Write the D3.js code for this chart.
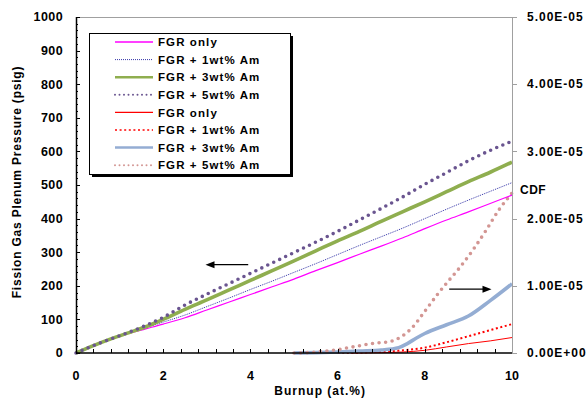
<!DOCTYPE html>
<html lang="en">
<head>
<meta charset="UTF-8">
<title>Fission gas plenum pressure and CDF</title>
<script src="https://d3js.org/d3.v7.min.js"></script>
<style>
  body { margin: 0; background: #fff; }
  text { font-family: "Liberation Sans", Arial, sans-serif; font-weight: bold; fill: #000; }
</style>
</head>
<body>
<div id="chart"></div>
<script>
  // burnup grid for pressure curves (at.%)
  var burnupP = [0, 0.4, 0.8, 1.2, 1.6, 2, 2.5, 3, 3.5, 4, 4.5, 5, 5.5, 6, 6.5, 7, 7.5, 8, 8.5, 9, 9.5, 10];
  // plenum pressure (psig)
  var pFgr  = [0, 22, 41, 58, 72, 86, 105, 128, 151, 174, 197, 220, 245, 269, 294, 318, 343, 370, 396, 420, 445, 470];
  var pAm1  = [0, 22, 42, 60, 76, 92, 113, 138, 163, 189, 214, 240, 266, 293, 320, 346, 372, 400, 428, 455, 481, 507];
  var pAm3  = [0, 22, 42, 60, 78, 100, 130, 158, 187, 216, 245, 274, 304, 334, 362, 392, 421, 450, 480, 510, 538, 568];
  var pAm5  = [0, 22, 42, 61, 82, 106, 143, 175, 206, 237, 268, 299, 330, 362, 396, 430, 465, 502, 537, 572, 603, 630];

  // CDF curves (units of 1e-5)
  var bCdfFgr = [6.3, 7, 7.5, 8, 8.5, 9, 9.5, 10];
  var cCdfFgr = [0, 0.005, 0.015, 0.04, 0.09, 0.14, 0.18, 0.23];
  var bCdfAm1 = [6, 6.5, 7, 7.5, 8, 8.5, 9, 9.5, 10];
  var cCdfAm1 = [0, 0.005, 0.02, 0.04, 0.08, 0.16, 0.25, 0.34, 0.43];
  var bCdfAm3 = [5, 5.5, 6, 6.5, 7, 7.4, 7.6, 7.8, 8, 8.5, 9, 9.5, 10];
  var cCdfAm3 = [0, 0.005, 0.015, 0.03, 0.045, 0.08, 0.14, 0.22, 0.29, 0.42, 0.55, 0.78, 1.03];
  var bCdfAm5 = [5, 5.3, 5.6, 6, 6.3, 6.6, 6.9, 7.2, 7.5, 7.7, 8, 8.3, 8.5, 8.8, 9.1, 9.4, 9.7, 10];
  var cCdfAm5 = [0, 0.005, 0.02, 0.05, 0.085, 0.12, 0.15, 0.17, 0.26, 0.37, 0.62, 0.88, 1.04, 1.27, 1.53, 1.82, 2.13, 2.38];

  var xTicks = [0, 2, 4, 6, 8, 10];
  var yTicks = [0, 100, 200, 300, 400, 500, 600, 700, 800, 900, 1000];
  var y2Ticks = [0, 1, 2, 3, 4, 5];
  var y2Labels = ["0.00E+00", "1.00E-05", "2.00E-05", "3.00E-05", "4.00E-05", "5.00E-05"];

  var legendNames = ["FGR only", "FGR + 1wt% Am", "FGR + 3wt% Am", "FGR + 5wt% Am",
                     "FGR only", "FGR + 1wt% Am", "FGR + 3wt% Am", "FGR + 5wt% Am"];

  var W = 588, H = 401;
  var margin = { top: 17, right: 76, bottom: 48, left: 76 };
  var width = W - margin.left - margin.right,
      height = H - margin.top - margin.bottom;

  var svg = d3.select("#chart").append("svg")
      .attr("width", W).attr("height", H);
  var g = svg.append("g")
      .attr("transform", "translate(" + margin.left + "," + margin.top + ")");

  var x = d3.scaleLinear().domain([0, 10]).range([0, width]);
  var y = d3.scaleLinear().domain([0, 1000]).range([height, 0]);
  var y2 = d3.scaleLinear().domain([0, 5]).range([height, 0]);

  // series styles
  var styles = [
    { stroke: "#ff00ff", w: 1.2, dash: null, cap: "butt", lw: 1.5, ldash: null },
    { stroke: "#3434a8", w: 1, dash: "1,1", cap: "butt", lw: 1, ldash: "1,1" },
    { stroke: "#8fae4f", w: 3.6, dash: null, cap: "butt", lw: 2.5, ldash: null },
    { stroke: "#6a5590", w: 3.6, dash: "0,6.6", cap: "round", lw: 2, ldash: "0,4.5" },
    { stroke: "#ff0000", w: 1, dash: null, cap: "butt", lw: 1.2, ldash: null },
    { stroke: "#ff0000", w: 2, dash: "2,2.6", cap: "butt", lw: 1.5, ldash: "2,2.6" },
    { stroke: "#94add3", w: 3.6, dash: null, cap: "butt", lw: 2.5, ldash: null },
    { stroke: "#d39693", w: 3.6, dash: "0,6.6", cap: "round", lw: 2, ldash: "0,4.5" }
  ];

  function zip(bs, vs) { return bs.map(function (b, i) { return [b, vs[i]]; }); }

  var series = [
    { pts: zip(burnupP, pFgr), axis: y },
    { pts: zip(burnupP, pAm1), axis: y },
    { pts: zip(burnupP, pAm3), axis: y },
    { pts: zip(burnupP, pAm5), axis: y },
    { pts: zip(bCdfFgr, cCdfFgr), axis: y2 },
    { pts: zip(bCdfAm1, cCdfAm1), axis: y2 },
    { pts: zip(bCdfAm3, cCdfAm3), axis: y2 },
    { pts: zip(bCdfAm5, cCdfAm5), axis: y2 }
  ];

  // frame: grey top and right
  g.append("line").attr("x1", 0).attr("x2", width).attr("y1", 0.5).attr("y2", 0.5)
      .attr("stroke", "#a0a0a0");

  // draw order: CDF behind, pressure on top
  var order = [4, 5, 6, 7, 0, 1, 2, 3];
  order.forEach(function (i) {
    var s = series[i], st = styles[i];
    var line = d3.line()
        .x(function (d) { return x(d[0]); })
        .y(function (d) { return s.axis(d[1]); })
        .curve(d3.curveMonotoneX);
    g.append("path")
        .datum(s.pts)
        .attr("d", line)
        .attr("fill", "none")
        .attr("stroke", st.stroke)
        .attr("stroke-width", st.w)
        .attr("stroke-linecap", st.cap)
        .attr("stroke-dasharray", st.dash);
  });

  // left axis
  var yAxis = g.append("g");
  yAxis.append("line").attr("x1", 0.5).attr("x2", 0.5).attr("y1", 0).attr("y2", height)
      .attr("stroke", "#000").attr("stroke-width", 1.5);
  yAxis.selectAll("line.minor").data(d3.range(0, 1001, 20)).enter().append("line")
      .attr("x1", 0).attr("x2", function (d) { return d % 100 === 0 ? 4 : 2; })
      .attr("y1", function (d) { return Math.round(y(d)) + 0.5; })
      .attr("y2", function (d) { return Math.round(y(d)) + 0.5; })
      .attr("stroke", "#000");
  yAxis.selectAll("text").data(yTicks).enter().append("text")
      .attr("x", -13).attr("y", function (d) { return y(d); })
      .attr("dy", "0.35em").attr("text-anchor", "end")
      .attr("font-size", 12.5).attr("letter-spacing", 0.4)
      .text(function (d) { return d; });

  // bottom axis
  var xAxis = g.append("g");
  xAxis.append("line").attr("x1", 0).attr("x2", width).attr("y1", height).attr("y2", height)
      .attr("stroke", "#000").attr("stroke-width", 1.5);
  xAxis.selectAll("line.tick").data(d3.range(0, 25.01, 1)).enter().append("line")
      .attr("x1", function (d) { return Math.round(x(d * 0.4)) + 0.5; })
      .attr("x2", function (d) { return Math.round(x(d * 0.4)) + 0.5; })
      .attr("y1", height).attr("y2", height - 4)
      .attr("stroke", "#000");
  xAxis.selectAll("text").data(xTicks).enter().append("text")
      .attr("x", function (d) { return x(d); }).attr("y", height + 27)
      .attr("text-anchor", "middle")
      .attr("font-size", 12.5)
      .text(function (d) { return d; });

  // right axis
  var rAxis = g.append("g").attr("transform", "translate(" + width + ",0)");
  rAxis.append("line").attr("x1", 0.5).attr("x2", 0.5).attr("y1", 0).attr("y2", height)
      .attr("stroke", "#a0a0a0");
  rAxis.selectAll("line.tick").data(y2Ticks).enter().append("line")
      .attr("x1", 0).attr("x2", 5)
      .attr("y1", function (d) { return Math.round(y2(d)) + 0.5; })
      .attr("y2", function (d) { return Math.round(y2(d)) + 0.5; })
      .attr("stroke", "#a0a0a0");
  rAxis.selectAll("text").data(y2Ticks).enter().append("text")
      .attr("x", 15).attr("y", function (d) { return y2(d); })
      .attr("dy", "0.35em")
      .attr("font-size", 12).attr("letter-spacing", 1)
      .text(function (d, i) { return y2Labels[i]; });

  // axis titles
  g.append("text")
      .attr("transform", "translate(" + (-55) + "," + (height / 2 - 3) + ") rotate(-90)")
      .attr("text-anchor", "middle").attr("font-size", 12).attr("letter-spacing", 0.8)
      .text("Fission Gas Plenum Pressure (psig)");
  g.append("text")
      .attr("x", x(5.6)).attr("y", height + 42)
      .attr("text-anchor", "middle").attr("font-size", 12).attr("letter-spacing", 1)
      .text("Burnup (at.%)");
  g.append("text")
      .attr("x", width + 8).attr("y", y2(2.43))
      .attr("dy", "0.35em")
      .attr("font-size", 12).attr("letter-spacing", 0.5)
      .text("CDF");

  // arrows indicating axis for each group
  function arrow(x1, x2, yy) {
    var dir = x2 < x1 ? 1 : -1;
    g.append("line").attr("x1", x1).attr("x2", x2 + dir * 7).attr("y1", yy).attr("y2", yy)
        .attr("stroke", "#000").attr("stroke-width", 1.3);
    g.append("path")
        .attr("d", "M" + x2 + "," + yy + "L" + (x2 + dir * 9) + "," + (yy - 3.5) +
              "L" + (x2 + dir * 9) + "," + (yy + 3.5) + "Z")
        .attr("fill", "#000");
  }
  arrow(x(3.95), x(2.97), y(263));
  arrow(x(8.56), x(9.53), y2(0.95));

  // legend
  var lg = svg.append("g").attr("transform", "translate(89,33)");
  var lw = 201, lh = 141;
  lg.append("rect").attr("x", 3).attr("y", 3).attr("width", lw).attr("height", lh).attr("fill", "#000");
  lg.append("rect").attr("x", 0.5).attr("y", 0.5).attr("width", lw).attr("height", lh)
      .attr("fill", "#fff").attr("stroke", "#000");
  var rows = lg.selectAll("g.row").data(legendNames).enter().append("g")
      .attr("transform", function (d, i) { return "translate(0," + (9 + i * 17.6) + ")"; });
  rows.append("line")
      .attr("x1", 26).attr("x2", 64).attr("y1", 0).attr("y2", 0)
      .attr("stroke", function (d, i) { return styles[i].stroke; })
      .attr("stroke-width", function (d, i) { return styles[i].lw; })
      .attr("stroke-linecap", function (d, i) { return styles[i].cap; })
      .attr("stroke-dasharray", function (d, i) { return styles[i].ldash; });
  rows.append("text")
      .attr("x", 69).attr("y", 0).attr("dy", "0.36em")
      .attr("font-size", 11.5).attr("letter-spacing", 1.1)
      .text(function (d) { return d; });
</script>
</body>
</html>
